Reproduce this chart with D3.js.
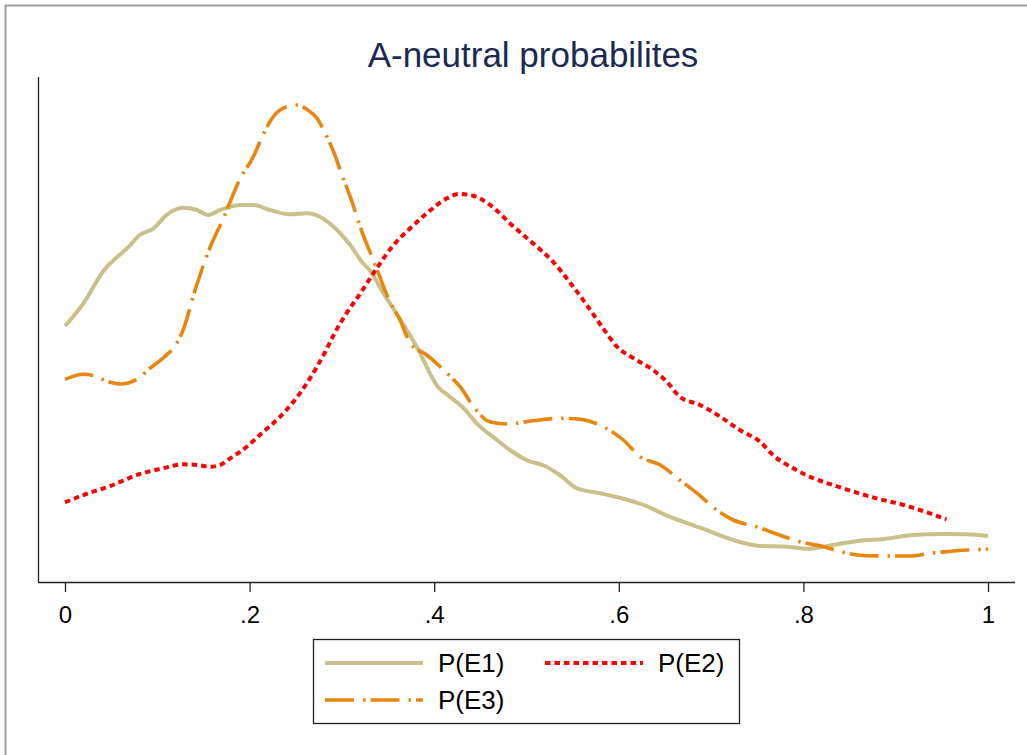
<!DOCTYPE html>
<html>
<head>
<meta charset="utf-8">
<script src="https://cdn.jsdelivr.net/npm/d3@7"></script>
<style>
  html, body { margin: 0; padding: 0; background: #fff; }
  svg { display: block; }
</style>
</head>
<body>
<svg id="chart" width="1027" height="755"></svg>
<script>
// ---- data (density estimates; y in arbitrary units) ----
const title = "A-neutral probabilites";
const xTicks = [0, 0.2, 0.4, 0.6, 0.8, 1];
const xTickLabels = ["0", ".2", ".4", ".6", ".8", "1"];
const seriesNames = ["P(E1)", "P(E2)", "P(E3)"];

const e1X = [0,0.020,0.041,0.069,0.081,0.096,0.110,0.128,0.143,0.155,0.168,0.190,0.204,0.222,0.244,0.262,0.276,0.291,0.309,0.323,0.330,0.345,0.359,0.381,0.404,0.417,0.432,0.446,0.468,0.482,0.500,0.520,0.536,0.554,0.580,0.601,0.627,0.655,0.688,0.724,0.753,0.782,0.805,0.832,0.861,0.887,0.919,0.952,0.977,1.0];
const e1Y = [2.54,2.767,3.083,3.333,3.45,3.517,3.65,3.723,3.70,3.65,3.70,3.75,3.75,3.70,3.657,3.667,3.633,3.533,3.35,3.167,3.10,2.867,2.667,2.333,1.933,1.833,1.717,1.567,1.40,1.30,1.20,1.14,1.05,0.92,0.867,0.823,0.75,0.633,0.523,0.40,0.34,0.333,0.313,0.35,0.393,0.41,0.45,0.46,0.457,0.44];

const e2X = [0,0.023,0.049,0.081,0.106,0.128,0.143,0.157,0.168,0.179,0.197,0.215,0.233,0.249,0.262,0.273,0.282,0.293,0.305,0.320,0.338,0.356,0.374,0.392,0.414,0.427,0.443,0.462,0.484,0.507,0.527,0.545,0.564,0.583,0.598,0.616,0.634,0.652,0.666,0.688,0.710,0.731,0.753,0.767,0.789,0.811,0.832,0.858,0.883,0.905,0.926,0.955];
const e2Y = [0.777,0.86,0.94,1.06,1.117,1.157,1.15,1.133,1.15,1.217,1.333,1.483,1.633,1.80,1.967,2.133,2.283,2.483,2.667,2.867,3.12,3.35,3.517,3.667,3.817,3.86,3.84,3.74,3.55,3.367,3.20,3.00,2.767,2.517,2.333,2.217,2.12,1.983,1.833,1.75,1.633,1.50,1.383,1.25,1.117,1.017,0.95,0.873,0.807,0.76,0.70,0.607];

const e3X = [0,0.020,0.031,0.049,0.060,0.078,0.092,0.108,0.121,0.128,0.141,0.159,0.170,0.190,0.204,0.213,0.222,0.233,0.251,0.262,0.273,0.282,0.291,0.300,0.309,0.323,0.334,0.341,0.352,0.363,0.374,0.392,0.414,0.428,0.444,0.460,0.479,0.507,0.536,0.558,0.583,0.605,0.623,0.645,0.666,0.684,0.706,0.724,0.749,0.771,0.796,0.822,0.843,0.869,0.894,0.916,0.937,0.966,0.995,1.0];
const e3Y = [2.007,2.057,2.043,1.977,1.96,2.007,2.117,2.233,2.367,2.50,2.90,3.367,3.583,4.017,4.233,4.417,4.583,4.70,4.75,4.707,4.617,4.467,4.283,4.05,3.833,3.45,3.20,3.033,2.783,2.60,2.367,2.25,2.067,1.933,1.717,1.583,1.56,1.593,1.617,1.607,1.533,1.40,1.233,1.15,1.00,0.873,0.70,0.60,0.533,0.46,0.383,0.333,0.277,0.243,0.24,0.24,0.267,0.293,0.307,0.31];

// ---- layout ----
const svg = d3.select("#chart");
const W = 1027, H = 755;
const FONT = "Liberation Sans, Arial, Helvetica, sans-serif";

// faint outer frame (top and left)
svg.append("line").attr("x1", 5).attr("x2", W).attr("y1", 5.5).attr("y2", 5.5)
  .attr("stroke", "#a0a0a0").attr("stroke-width", 2);
svg.append("line").attr("x1", 5.5).attr("x2", 5.5).attr("y1", 5).attr("y2", H)
  .attr("stroke", "#a0a0a0").attr("stroke-width", 2);

const x = d3.scaleLinear().domain([0, 1]).range([65, 988]);
const y = d3.scaleLinear().domain([0, 5]).range([580, 80]);

// title
svg.append("text")
  .attr("x", 533).attr("y", 67)
  .attr("text-anchor", "middle")
  .attr("font-family", FONT)
  .attr("font-size", 35)
  .attr("fill", "#1c2a52")
  .text(title);

// y axis line (no ticks)
svg.append("line").attr("x1", 38.5).attr("x2", 38.5).attr("y1", 77).attr("y2", 582)
  .attr("stroke", "#222").attr("stroke-width", 1.3);

// x axis
const xAxis = d3.axisBottom(x)
  .tickValues(xTicks)
  .tickFormat((d, i) => xTickLabels[i])
  .tickSize(10)
  .tickPadding(14);
const gx = svg.append("g").attr("transform", "translate(0,582)").call(xAxis);
gx.attr("font-size", 24).attr("font-family", FONT);
gx.select(".domain").attr("d", "M38,0.5H1015").attr("stroke", "#222").attr("stroke-width", 1.3);
gx.selectAll(".tick line").attr("stroke", "#222").attr("stroke-width", 1.3);
gx.selectAll(".tick text")
  .attr("font-family", FONT)
  .attr("font-size", 24)
  .attr("fill", "#000");

// series
const styles = [
  { color: "#c9c08a", width: 4, dash: null },
  { color: "#ff0000", width: 4, dash: "5.5,4" },
  { color: "#e8860f", width: 3.6, dash: "29,9,2.5,5" }
];
const data = [
  e1X.map((v, i) => [v, e1Y[i]]),
  e2X.map((v, i) => [v, e2Y[i]]),
  e3X.map((v, i) => [v, e3Y[i]])
];
const line = d3.line().x(d => x(d[0])).y(d => y(d[1])).curve(d3.curveMonotoneX);

data.forEach((pts, i) => {
  const s = styles[i];
  const p = svg.append("path")
    .attr("d", line(pts))
    .attr("fill", "none")
    .attr("stroke", s.color)
    .attr("stroke-width", s.width)
    .attr("stroke-linejoin", "round");
  if (s.dash) p.attr("stroke-dasharray", s.dash);
});

// legend
const lg = svg.append("g");
lg.append("rect").attr("x", 313.5).attr("y", 639.5).attr("width", 426).attr("height", 84)
  .attr("fill", "#fff").attr("stroke", "#222").attr("stroke-width", 1.3);
const legendItems = [
  { idx: 0, lx: 325, ly: 663 },
  { idx: 1, lx: 545, ly: 663 },
  { idx: 2, lx: 325, ly: 700 }
];
legendItems.forEach(it => {
  const s = styles[it.idx];
  const l = lg.append("line")
    .attr("x1", it.lx).attr("x2", it.lx + 98)
    .attr("y1", it.ly).attr("y2", it.ly)
    .attr("stroke", s.color).attr("stroke-width", s.width);
  if (s.dash) l.attr("stroke-dasharray", s.dash);
  lg.append("text")
    .attr("x", it.lx + 113).attr("y", it.ly)
    .attr("dy", "0.36em")
    .attr("font-family", FONT)
    .attr("font-size", 26)
    .attr("fill", "#000")
    .text(seriesNames[it.idx]);
});
</script>
</body>
</html>
